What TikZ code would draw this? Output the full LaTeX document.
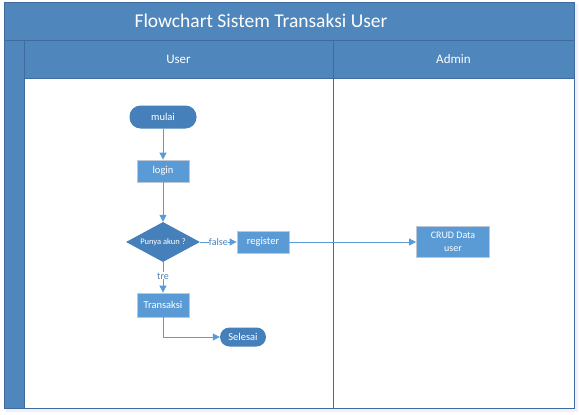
\documentclass[tikz,border=0pt]{standalone}
\usepackage{fontspec}
\setmainfont{Carlito}
\usetikzlibrary{shapes.geometric,arrows.meta}
\definecolor{hdr}{RGB}{79,134,188}
\definecolor{hdrline}{RGB}{62,108,158}
\definecolor{nodeblue}{RGB}{91,155,213}
\definecolor{darkblue}{RGB}{70,128,186}
\definecolor{nborder}{RGB}{190,200,212}
\definecolor{lineblue}{RGB}{91,155,213}
\tikzset{
  procbox/.style={draw=nborder, line width=0.8pt, fill=nodeblue, text=white, minimum width=52pt, minimum height=22pt, inner sep=1pt, font=\fontsize{10.5}{12}\selectfont, align=center},
  termbox/.style={draw=none, fill=darkblue, text=white, rounded corners=11pt, minimum height=23pt, inner sep=1pt, font=\fontsize{10.5}{12}\selectfont},
  decbox/.style={diamond, draw=none, fill=darkblue, text=white, minimum width=74pt, minimum height=40pt, inner sep=0pt, aspect=1.85, font=\fontsize{8.5}{10}\selectfont},
  flow/.style={draw=lineblue, line width=0.8pt, -{Triangle[length=7pt,width=7pt]}},
  lbl/.style={text=darkblue, fill=white, inner sep=0.3pt, font=\fontsize{10}{11}\selectfont},
  hdrtext/.style={text=white, font=\fontsize{13}{15}\selectfont}
}
\begin{document}
\begin{tikzpicture}[x=1pt,y=-1pt]
\useasboundingbox (0,0) rectangle (579,415);
\fill[white] (0,0) rectangle (579,415);
% shadow of frame
\fill[blue!6] (6,408) rectangle (576,412);
\fill[blue!6] (574,4) rectangle (578,412);
% title bar
\filldraw[fill=hdr, draw=hdrline, line width=0.8pt] (4,2) rectangle (574,40);
\node[text=white, font=\fontsize{19.5}{22}\selectfont] (title) at (261,21) {Flowchart Sistem Transaksi User};
% left strip
\filldraw[fill=hdr, draw=hdrline, line width=0.8pt] (4,40) rectangle (24,408);
% lane headers
\filldraw[fill=hdr, draw=hdrline, line width=0.8pt] (24,40) rectangle (333,78);
\filldraw[fill=hdr, draw=hdrline, line width=0.8pt] (333,40) rectangle (574,78);
\node[hdrtext] (huser) at (178.5,59) {User};
\node[hdrtext] (hadmin) at (453.5,59) {Admin};
% lane bodies
\draw[draw=hdrline, line width=0.8pt] (24,78) rectangle (333,408);
\draw[draw=hdrline, line width=0.8pt] (333,78) rectangle (574,408);
% nodes
\node[termbox, minimum width=67pt] (mulai) at (163,117) {mulai};
\node[procbox] (login) at (163,171) {login};
\node[decbox] (dec) at (163,242) {Punya akun ?};
\node[procbox] (reg) at (263,242) {register};
\node[procbox, minimum width=73pt, minimum height=31pt, font=\fontsize{10}{13}\selectfont] (crud) at (453,242) {CRUD Data\\user};
\node[procbox, minimum height=24pt] (trans) at (163,305) {Transaksi};
\node[termbox, minimum width=46pt, minimum height=19pt, rounded corners=9.5pt] (sel) at (243,337) {Selesai};
% connectors
\draw[flow] (mulai) -- (login);
\draw[flow] (login) -- (dec);
\draw[flow] (dec) -- node[lbl] {false} (reg);
\draw[flow] (reg) -- (crud);
\draw[flow] (dec) -- node[lbl, pos=0.45] {tre} (trans);
\draw[flow] (trans.south) |- (sel.west);
\end{tikzpicture}
\end{document}
